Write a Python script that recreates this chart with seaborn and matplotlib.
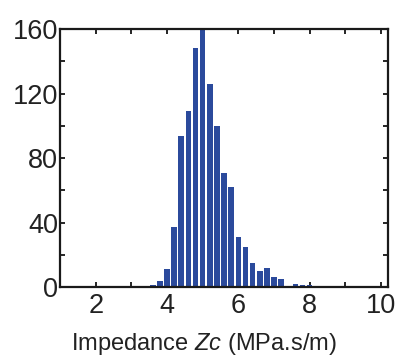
import matplotlib
matplotlib.use("Agg")
import matplotlib.pyplot as plt
import seaborn as sns
from matplotlib.ticker import MultipleLocator

# Histogram of impedance Zc: bin centres (MPa.s/m) and counts
bin_centers = [3.6, 3.8, 4.0, 4.2, 4.4, 4.6, 4.8, 5.0, 5.2, 5.4, 5.6, 5.8,
               6.0, 6.2, 6.4, 6.6, 6.8, 7.0, 7.2, 7.4, 7.6, 7.8, 8.0]
counts = [1, 4, 11, 37, 94, 109, 148, 160, 126, 100, 71, 62,
          31, 25, 15, 10, 12, 6, 5, 0, 2, 1, 1]
x_ticks = [2, 4, 6, 8, 10]
y_ticks = [0, 40, 80, 120, 160]

sns.set_style("ticks")
plt.rcParams["font.family"] = ["Liberation Sans", "DejaVu Sans"]
plt.rcParams["mathtext.fontset"] = "custom"
plt.rcParams["mathtext.it"] = "Liberation Sans:italic"
plt.rcParams["mathtext.rm"] = "Liberation Sans"

fig = plt.figure(figsize=(4.03, 3.64), dpi=100)
ax = fig.add_axes([0.149, 0.2115, 0.814, 0.7085])

sns.histplot(x=bin_centers, weights=counts, binwidth=0.2, binrange=(3.5, 8.1),
             shrink=0.78, color="#2B4A9C", edgecolor="none", alpha=1.0, ax=ax)

ax.set_xlim(1, 10.2)
ax.set_ylim(0, 160)
ax.set_xticks(x_ticks)
ax.set_yticks(y_ticks)
ax.xaxis.set_minor_locator(MultipleLocator(1))
ax.yaxis.set_minor_locator(MultipleLocator(20))
ax.tick_params(which="both", direction="in", top=True, right=True,
               width=1.2, color="black")
ax.tick_params(which="major", length=3.5, labelsize=19.5)
ax.tick_params(which="minor", length=3.5)
ax.tick_params(axis="x", pad=4)
ax.tick_params(axis="y", pad=1.5)
for s in ax.spines.values():
    s.set_linewidth(1.6)
    s.set_color("#1a1a1a")

ax.set_ylabel("")
ax.set_xlabel(r"Impedance $Zc$ (MPa.s/m)", fontsize=17, color="#222222")
ax.xaxis.set_label_coords(0.44, -0.172)
for lab in ax.get_xticklabels() + ax.get_yticklabels():
    lab.set_color("#222222")

fig.savefig("out.png", dpi=100)
